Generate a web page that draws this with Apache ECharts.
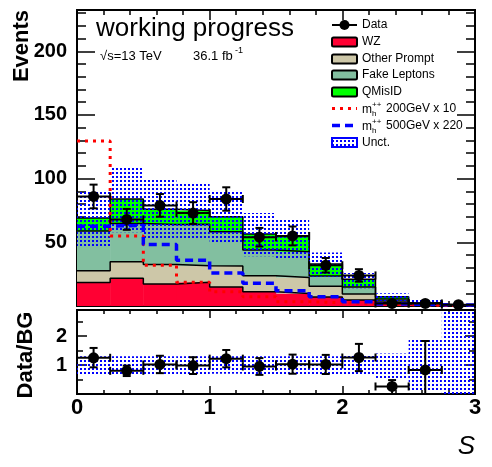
<!DOCTYPE html>
<html><head><meta charset="utf-8">
<script src="https://cdn.jsdelivr.net/npm/echarts@6/dist/echarts.min.js"></script>
<style>html,body{margin:0;padding:0;background:#fff}#c{width:492px;height:467px}</style>
</head><body><div id="c"></div>
<script>
// ---- data ----
const binEdges = [0,0.25,0.5,0.75,1,1.25,1.5,1.75,2,2.25,2.5,2.75,3];
const wz          = [18.5,21.7,17.2,18.6,15.0,11.2,9.9,7.0,4.7,2.5,1.0,0.2];
const otherPrompt = [9.2,13.0,15.4,13.0,16.5,12.6,12.4,8.5,4.8,1.5,0.5,0.1];
const fakeLeptons = [31.1,30.0,31.4,32.6,26.8,20.2,20.2,8.0,5.5,1.5,0.5,0.1];
const qmisid      = [10.2,19.3,12.0,10.8,11.8,12.5,12.0,9.5,6.0,1.8,0.5,0.1];
const dataCounts  = [86,68,79,73,84,54,55,32,24,2,2,1];
const dataErr     = [9.3,8.2,8.9,8.5,9.2,7.3,7.4,5.7,4.9,1.4,1.4,1.0];
const sig200x10   = [129.5,55,32,18.6,11.2,7.3,3.4,2.6,1.5,1.0,0.5,0.3];
const sig500x220  = [62.6,63.4,48.3,36,26,17.8,12,7.3,3.4,1.5,1.0,0.8];
const bandLo      = [47,58,52,52,49,39,37,23,14,4,0.3,0];
const bandHi      = [91,110,99,97,91,73,68,42,26,10,4.8,1.0];
const ratio       = [1.25,0.80,1.02,0.98,1.22,0.95,1.03,1.02,1.26,0.26,0.83,null];
const ratioErrUp  = [0.34,0.18,0.30,0.29,0.30,0.29,0.33,0.33,0.47,0.22,1.0,null];
const ratioErrDn  = [0.33,0.18,0.30,0.29,0.30,0.29,0.33,0.33,0.47,0.26,0.83,null];
const ratioBandLo = [0.68,0.69,0.69,0.69,0.70,0.68,0.68,0.68,0.67,0.53,0.1,0.0];
const ratioBandHi = [1.30,1.30,1.30,1.30,1.30,1.30,1.30,1.30,1.33,1.40,1.92,2.83];
const mainYMax = 232.4;
const ratioYMax = 2.9;

const colors = {wz:'#ff0033', other:'#cdc7a8', fake:'#82bfa0', qmis:'#00ff00'};
const layerColors = [colors.wz, colors.other, colors.fake, colors.qmis];

// ---- helpers ----
function stepData(arr){ const d = arr.map((v,i)=>[binEdges[i], v]); d.push([binEdges[binEdges.length-1], arr[arr.length-1]]); return d; }
function makePattern(){ const c=document.createElement('canvas'); c.width=4; c.height=4; const g=c.getContext('2d'); g.fillStyle='#0000ff'; g.fillRect(0,0,2,2); return c; }
const pattern = {image: makePattern(), repeat:'repeat'};

// cumulative stack tops (built from the component arrays)
const layers = [wz, otherPrompt, fakeLeptons, qmisid];
const cum = [];
layers.forEach((arr,k)=>{ cum.push(arr.map((v,i)=> v + (k>0 ? cum[k-1][i] : 0))); });

const chart = echarts.init(document.getElementById('c'), null, {renderer:'canvas'});

const axisLineStyle = {show:true, onZero:false, lineStyle:{color:'#000', width:2}};
function xAx(grid, pos, labels){
  return {type:'value', gridIndex:grid, position:pos, min:0, max:3, interval:1,
    axisLine:axisLineStyle, splitLine:{show:false},
    axisTick:{show:true, inside:true, length: grid===0?10:8, lineStyle:{color:'#000', width:1.5}},
    minorTick:{show:true, splitNumber:5, length: grid===0?5:4, lineStyle:{color:'#000', width:1.5}},
    axisLabel: labels ? {show:true, fontFamily:'Liberation Sans, Arial', fontWeight:'bold', fontSize:22, color:'#000', margin:3} : {show:false}};
}
function yAx(grid, pos, max, interval, len, labels){
  return {type:'value', gridIndex:grid, position:pos, min:0, max:max, interval:interval,
    axisLine:axisLineStyle, splitLine:{show:false},
    axisTick:{show:true, inside:true, length:len, lineStyle:{color:'#000', width:1.5}},
    axisLabel: labels ? {show:true, fontFamily:'Liberation Sans, Arial', fontWeight:'bold', fontSize:20, color:'#000', margin:10, showMinLabel:false, showMaxLabel:false} : {show:false}};
}

// stacked fills per bin
const stackFillData = binEdges.slice(0,-1).map((x0,i)=>[x0, binEdges[i+1], 0, cum[0][i], cum[1][i], cum[2][i], cum[3][i]]);
const stackFill = {type:'custom', xAxisIndex:0, yAxisIndex:0, z:1, animation:false, data:stackFillData,
  renderItem:(params, api)=>{
    const x0 = api.value(0), x1 = api.value(1);
    const ch = [];
    for(let k=0;k<4;k++){
      const a = api.coord([x0, api.value(3+k)]);
      const b = api.coord([x1, api.value(2+k)]);
      ch.push({type:'rect', shape:{x:a[0], y:a[1], width:b[0]-a[0]+0.5, height:b[1]-a[1]}, style:{fill:layerColors[k]}});
    }
    return {type:'group', children:ch};
  }};
const stackOutlines = cum.map((arr,k)=>({name:'outline'+k, type:'line', xAxisIndex:0, yAxisIndex:0, step:'end', symbol:'none',
  data:stepData(arr), lineStyle:{color:'#000', width:1.5}, z:2, animation:false}));

function bandSeries(xi, yi, lo, hi, ymax){
  const d = lo.map((v,i)=>[binEdges[i], binEdges[i+1], v, Math.min(hi[i], ymax)]);
  return {type:'custom', xAxisIndex:xi, yAxisIndex:yi, z:3, animation:false, data:d,
    renderItem:(params, api)=>{
      const p0 = api.coord([api.value(0), api.value(3)]);
      const p1 = api.coord([api.value(1), api.value(2)]);
      return {type:'rect', shape:{x:p0[0], y:p0[1], width:p1[0]-p0[0], height:p1[1]-p0[1]}, style:{fill:pattern}};
    }};
}

function pointSeries(xi, yi, vals, up, dn){
  const d = [];
  vals.forEach((v,i)=>{ if(v!==null) d.push([(binEdges[i]+binEdges[i+1])/2, v, dn[i], up[i], binEdges[i], binEdges[i+1]]); });
  return {type:'custom', xAxisIndex:xi, yAxisIndex:yi, z:6, animation:false, data:d,
    renderItem:(params, api)=>{
      const xc=api.value(0), y=api.value(1), eDn=api.value(2), eUp=api.value(3), x0=api.value(4), x1=api.value(5);
      const c = api.coord([xc,y]);
      const l = api.coord([x0,y]), r = api.coord([x1,y]);
      const top = api.coord([xc, y+eUp]);
      const lowV = y-eDn;
      const bot = api.coord([xc, Math.max(lowV, 0)]);
      const cap = 4;
      const st = {stroke:'#000', lineWidth:2};
      const ch = [
        {type:'line', shape:{x1:l[0], y1:c[1], x2:r[0], y2:c[1]}, style:st},
        {type:'line', shape:{x1:l[0], y1:c[1]-cap, x2:l[0], y2:c[1]+cap}, style:st},
        {type:'line', shape:{x1:r[0], y1:c[1]-cap, x2:r[0], y2:c[1]+cap}, style:st},
        {type:'line', shape:{x1:c[0], y1:top[1], x2:c[0], y2:bot[1]}, style:st},
        {type:'line', shape:{x1:c[0]-cap, y1:top[1], x2:c[0]+cap, y2:top[1]}, style:st},
        {type:'circle', shape:{cx:c[0], cy:c[1], r:5.5}, style:{fill:'#000'}}
      ];
      if(lowV > 0) ch.push({type:'line', shape:{x1:c[0]-cap, y1:bot[1], x2:c[0]+cap, y2:bot[1]}, style:st});
      return {type:'group', children:ch};
    }};
}

// ---- legend (graphic) ----
const LF = 'Liberation Sans, Arial, sans-serif';
const legX = 332, legW = 25, txtX = 362;
const rows = [25, 42, 59, 75, 92, 108.5, 125.5, 142.5];
const g = [];
function txt(x,y,t,size){ return {type:'text', x, y, style:{text:t, font:size+'px '+LF, fill:'#000', align:'left', verticalAlign:'middle'}}; }
g.push({type:'line', shape:{x1:legX, y1:rows[0], x2:legX+legW, y2:rows[0]}, style:{stroke:'#000', lineWidth:2}});
g.push({type:'circle', shape:{cx:legX+legW/2, cy:rows[0], r:5}, style:{fill:'#000'}});
g.push(txt(txtX, rows[0], 'Data', 12));
const boxes = [['WZ', colors.wz],['Other Prompt', colors.other],['Fake Leptons', colors.fake],['QMisID', colors.qmis]];
boxes.forEach((b,i)=>{
  const y = rows[i+1];
  g.push({type:'rect', shape:{x:legX, y:y-4.5, width:legW, height:9, r:1.5}, style:{fill:b[1], stroke:'#000', lineWidth:2}});
  g.push(txt(txtX, y, b[0], 12));
});
g.push({type:'line', shape:{x1:legX, y1:rows[5], x2:legX+legW, y2:rows[5]}, style:{stroke:'#ff0000', lineWidth:3, lineDash:[3,5]}});
g.push({type:'line', shape:{x1:legX, y1:rows[6], x2:legX+legW, y2:rows[6]}, style:{stroke:'#0000ff', lineWidth:3.5, lineDash:[8,5]}});
[[rows[5],'200GeV x 10'],[rows[6],'500GeV x 220']].forEach(r=>{
  g.push(txt(txtX, r[0]+1, 'm', 12));
  g.push(txt(txtX+10, r[0]-4, '++', 8));
  g.push(txt(txtX+10, r[0]+5, 'h', 8));
  g.push(txt(txtX+24, r[0], r[1], 12));
});
g.push({type:'rect', shape:{x:legX, y:rows[7]-4.5, width:legW, height:9}, style:{fill:pattern, stroke:'#0000ff', lineWidth:2}});
g.push(txt(txtX, rows[7], 'Unct.', 12));

// titles
g.push(txt(96, 29, 'working progress', 26));
g.push(txt(100, 56, '\u221As=13 TeV', 13));
g.push(txt(193, 56, '36.1 fb', 13));
g.push(txt(235, 51, '-1', 9));
g.push({type:'text', x:22, y:46, rotation:Math.PI/2, style:{text:'Events', font:'bold 22px '+LF, fill:'#000', align:'center', verticalAlign:'middle'}});
g.push({type:'text', x:26, y:355, rotation:Math.PI/2, style:{text:'Data/BG', font:'bold 22px '+LF, fill:'#000', align:'center', verticalAlign:'middle'}});
g.push({type:'text', x:475, y:447, style:{text:'S', font:'italic 26px '+LF, fill:'#000', align:'right', verticalAlign:'middle'}});

const option = {
  animation:false,
  backgroundColor:'#fff',
  grid:[
    {left:77, top:10, width:398, height:296, containLabel:false},
    {left:77, top:310, width:398, height:84, containLabel:false}
  ],
  xAxis:[ xAx(0,'bottom',false), xAx(0,'top',false), xAx(1,'bottom',true), xAx(1,'top',false) ],
  yAxis:[
    yAx(0,'left',mainYMax,50,18,true), yAx(0,'left',mainYMax,10,9,false),
    yAx(0,'right',mainYMax,50,18,false), yAx(0,'right',mainYMax,10,9,false),
    yAx(1,'left',ratioYMax,1,10,true), yAx(1,'left',ratioYMax,0.5,6,false),
    yAx(1,'right',ratioYMax,1,10,false), yAx(1,'right',ratioYMax,0.5,6,false)
  ],
  series:[
    stackFill,
    ...stackOutlines,
    bandSeries(0,0,bandLo,bandHi,mainYMax),
    {name:'m200', type:'line', xAxisIndex:0, yAxisIndex:0, step:'end', symbol:'none', data:stepData(sig200x10), lineStyle:{color:'#ff0000', width:3, type:[3,5]}, z:4, animation:false},
    {name:'m500', type:'line', xAxisIndex:0, yAxisIndex:0, step:'end', symbol:'none', data:stepData(sig500x220), lineStyle:{color:'#0000ff', width:3.5, type:[8,5]}, z:4, animation:false},
    pointSeries(0,0,dataCounts,dataErr,dataErr),
    bandSeries(2,4,ratioBandLo,ratioBandHi,ratioYMax),
    pointSeries(2,4,ratio,ratioErrUp,ratioErrDn)
  ],
  graphic:{elements:g}
};
chart.setOption(option);
</script></body></html>
